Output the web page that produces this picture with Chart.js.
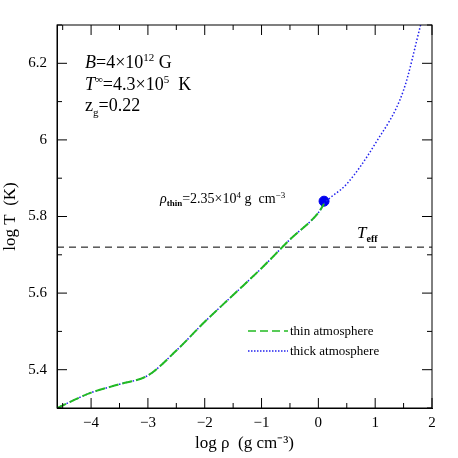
<!DOCTYPE html>
<html><head><meta charset="utf-8">
<script src="https://cdn.jsdelivr.net/npm/chart.js@4"></script>
<style>body{margin:0;background:#fff}#wrap{width:458px;height:458px}</style>
</head><body><div id="wrap"><canvas id="c"></canvas></div>
<script>
const logRho = [-4.6, -4, -3.5, -3, -2.5, -2, -1.5, -1, -0.5, 0, 0.1, 0.5, 1, 1.5, 1.8];
const logT   = [5.30, 5.34, 5.362, 5.385, 5.45, 5.525, 5.595, 5.665, 5.74, 5.81, 5.833, 5.885, 5.99, 6.13, 6.30];
const thinEnd = 10; // thin curve stops at the dot
const dotRho = [0.1], dotT = [5.84];
const teff = 5.72;
const xTicks = [-4, -3, -2, -1, 0, 1, 2];
const yTicks = [5.4, 5.6, 5.8, 6, 6.2];
const F = '"Liberation Serif", serif';

const pts = (a, b) => a.map((x, i) => ({x, y: b[i]}));

// draw a run of [text, font, dy] pieces left to right
function run(ctx, x, y, parts) {
  parts.forEach(([t, f, dy]) => {
    ctx.font = f + ' ' + F;
    ctx.fillText(t, x, y + (dy || 0));
    x += ctx.measureText(t).width;
  });
}

const deco = {
  id: 'deco',
  afterDraw(ch) {
    const {ctx, chartArea: a, scales: {x, y}} = ch;
    ctx.save();
    ctx.strokeStyle = '#000'; ctx.lineWidth = 1;
    ctx.strokeRect(a.left, a.top, a.right - a.left, a.bottom - a.top);
    ctx.beginPath();
    for (let v = -4.5; v <= 2; v += 0.5) {
      const len = Number.isInteger(v) ? 10 : 5, px = x.getPixelForValue(v);
      ctx.moveTo(px, a.bottom); ctx.lineTo(px, a.bottom - len);
      ctx.moveTo(px, a.top); ctx.lineTo(px, a.top + len);
    }
    for (let v = 5.3; v <= 6.3001; v += 0.1) {
      const len = Math.round(v * 10) % 2 === 0 ? 10 : 5, py = y.getPixelForValue(v);
      ctx.moveTo(a.left, py); ctx.lineTo(a.left + len, py);
      ctx.moveTo(a.right, py); ctx.lineTo(a.right - len, py);
    }
    ctx.stroke();
    ctx.fillStyle = '#000';
    run(ctx, 85, 68, [['B', 'italic 18px'], ['=4×10', '18px'], ['12', '11px', -7], [' G', '18px']]);
    run(ctx, 85, 90, [['T', 'italic 18px'], ['∞', '11px', -7], ['=4.3×10', '18px'], ['5', '11px', -7], ['  K', '18px']]);
    run(ctx, 85, 111, [['z', '18px'], ['g', '11px', 5], ['=0.22', '18px']]);
    run(ctx, 160, 203, [['ρ', 'italic 14px'], ['thin', 'bold 9px', 3], ['=2.35×10', '14px'], ['4', '9px', -5], [' g  cm', '14px'], ['−3', '9px', -5]]);
    run(ctx, 357, 238, [['T', 'italic 17px'], ['eff', 'bold 10px', 4]]);
    // legend
    ctx.lineWidth = 1.5;
    ctx.strokeStyle = '#22bb22'; ctx.setLineDash([8, 4]);
    ctx.beginPath(); ctx.moveTo(248, 331); ctx.lineTo(288, 331); ctx.stroke();
    ctx.strokeStyle = '#2222ee'; ctx.setLineDash([1.5, 1.5]);
    ctx.beginPath(); ctx.moveTo(248, 351); ctx.lineTo(288, 351); ctx.stroke();
    run(ctx, 290, 335, [['thin atmosphere', '13px']]);
    run(ctx, 290, 355, [['thick atmosphere', '13px']]);
    ctx.restore();
  }
};

new Chart(document.getElementById('c'), {
  type: 'scatter',
  data: {
    datasets: [
      {data: [{x: -4.6, y: teff}, {x: 2, y: teff}], showLine: true, borderColor: '#000', borderWidth: 1, borderDash: [7, 5], pointRadius: 0},
      {data: pts(logRho.slice(0, thinEnd + 1), logT.slice(0, thinEnd + 1)), showLine: true, borderColor: '#22bb22', borderWidth: 2, borderDash: [10, 4], pointRadius: 0, cubicInterpolationMode: 'monotone'},
      {data: pts(logRho, logT), showLine: true, borderColor: '#2222ee', borderWidth: 1.5, borderDash: [1.5, 2], pointRadius: 0, cubicInterpolationMode: 'monotone'},
      {data: pts(dotRho, dotT), pointRadius: 5, backgroundColor: '#0000ee', borderColor: '#0000ee'}
    ]
  },
  options: {
    responsive: true, maintainAspectRatio: false, animation: false,
    layout: {padding: {top: 25, right: 26, left: 0, bottom: 0}},
    plugins: {legend: {display: false}, tooltip: {enabled: false}},
    scales: {
      x: {min: -4.6, max: 2, grid: {display: false, drawTicks: false}, border: {color: '#000'},
        afterBuildTicks: s => { s.ticks = xTicks.map(v => ({value: v})); },
        afterFit: s => { s.height = 50; },
        ticks: {color: '#000', font: {family: F, size: 15}, padding: 6, callback: v => v < 0 ? '−' + Math.abs(v) : String(v)},
        title: {display: true, text: 'log ρ  (g cm⁻³)', color: '#000', font: {family: F, size: 17}, padding: {top: 2}}},
      y: {min: 5.3, max: 6.3, grid: {display: false, drawTicks: false}, border: {color: '#000'},
        afterBuildTicks: s => { s.ticks = yTicks.map(v => ({value: v})); },
        afterFit: s => { s.width = 57; },
        ticks: {color: '#000', font: {family: F, size: 15}, padding: 10, callback: v => String(v)},
        title: {display: true, text: 'log T  (K)', color: '#000', font: {family: F, size: 17}, padding: 0}}
    }
  },
  plugins: [deco]
});
</script></body></html>
